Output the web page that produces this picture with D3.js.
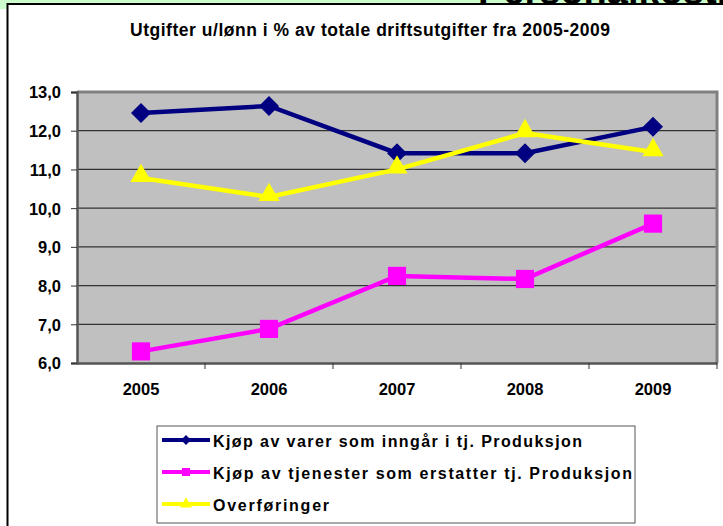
<!DOCTYPE html>
<html>
<head>
<meta charset="utf-8">
<script src="https://cdn.jsdelivr.net/npm/d3@7"></script>
<style>
  body { margin: 0; background: #fff; }
  text { font-family: "Liberation Sans", Arial, sans-serif; font-weight: bold; fill: #000; }
</style>
</head>
<body>
<div id="chart"></div>
<script>
const years = ["2005", "2006", "2007", "2008", "2009"];
const varer = [12.46, 12.64, 11.42, 11.42, 12.1];
const tjenester = [6.3, 6.88, 8.25, 8.17, 9.6];
const overforinger = [10.78, 10.29, 11.0, 11.94, 11.45];
const seriesNames = ["Kjøp av varer som inngår i tj. Produksjon", "Kjøp av tjenester som erstatter tj. Produksjon", "Overføringer"];
const yTicks = [6, 7, 8, 9, 10, 11, 12, 13];

const width = 723, height = 526;
const svg = d3.select("#chart").append("svg").attr("width", width).attr("height", height);

// green page strip with the bottoms of a big heading peeking out above the chart box
svg.append("clipPath").attr("id", "strip").append("rect")
    .attr("x", 0).attr("y", 0).attr("width", width).attr("height", 4);
svg.append("rect").attr("x", 0).attr("y", 0).attr("width", width).attr("height", 9).attr("fill", "#ccffcc");
svg.append("text").attr("x", 478).attr("y", 4).attr("clip-path", "url(#strip)")
    .style("font-size", "38px").text("Personalkostnader");

// chart box
svg.append("rect").attr("x", 7.5).attr("y", 4).attr("width", width).attr("height", height)
    .attr("fill", "#fff").attr("stroke", "#000").attr("stroke-width", 2);

svg.append("text").attr("x", 130).attr("y", 36)
    .attr("textLength", 480).attr("lengthAdjust", "spacing")
    .style("font-size", "17.5px").text("Utgifter u/lønn i % av totale driftsutgifter fra 2005-2009");

const plotL = 77, plotR = 717, plotT = 92, plotB = 363;
const x = d3.scaleBand().domain(years).range([plotL, plotR]);
const y = d3.scaleLinear().domain([6, 13]).range([plotB, plotT]);

svg.append("rect").attr("x", plotL).attr("y", plotT).attr("width", plotR - plotL).attr("height", plotB - plotT)
    .attr("fill", "#c0c0c0");

svg.append("g").selectAll("line").data(yTicks.slice(1, -1)).join("line")
    .attr("x1", plotL).attr("x2", plotR).attr("y1", d => y(d)).attr("y2", d => y(d))
    .attr("stroke", "#333").attr("stroke-width", 1.3);

svg.append("path")
    .attr("d", `M${plotL},${plotT}H${plotR}V${plotB}`)
    .attr("fill", "none").attr("stroke", "#808080").attr("stroke-width", 3);

const yAxis = svg.append("g").attr("transform", `translate(${plotL},0)`)
    .call(d3.axisLeft(y).tickValues(yTicks).tickSize(6).tickPadding(10)
        .tickFormat(d => d3.format(".1f")(d).replace(".", ",")));
yAxis.select(".domain").attr("stroke", "#555").attr("stroke-width", 2.5);
yAxis.selectAll(".tick line").attr("stroke", "#333");
yAxis.selectAll("text").attr("dy", "0.36em").style("font-size", "16.5px")
    .style("font-family", "Liberation Sans, Arial, sans-serif").style("font-weight", "bold");

const xAxis = svg.append("g").attr("transform", `translate(0,${plotB})`)
    .call(d3.axisBottom(x).tickSize(0).tickPadding(20));
xAxis.select(".domain").attr("stroke", "#555").attr("stroke-width", 2.5);
xAxis.selectAll("text").attr("dy", "0.71em").style("font-size", "16.5px")
    .style("font-family", "Liberation Sans, Arial, sans-serif").style("font-weight", "bold");
svg.append("g").selectAll("line").data(years.slice(1).concat([null])).join("line")
    .attr("x1", d => d ? x(d) : plotR).attr("x2", d => d ? x(d) : plotR)
    .attr("y1", plotB).attr("y2", plotB + 6).attr("stroke", "#333").attr("stroke-width", 1);

const diamond = { draw(ctx, size) { const r = Math.sqrt(size / 2); ctx.moveTo(0, -r); ctx.lineTo(r, 0); ctx.lineTo(0, r); ctx.lineTo(-r, 0); ctx.closePath(); } };

const series = [
  { name: seriesNames[0], values: varer, color: "#000080", symbol: diamond, size: 200, lsize: 50, len: 369 },
  { name: seriesNames[1], values: tjenester, color: "#ff00ff", symbol: d3.symbolSquare, size: 330, lsize: 64, len: 419 },
  { name: seriesNames[2], values: overforinger, color: "#ffff00", symbol: d3.symbolTriangle, size: 195, lsize: 60, len: 116 }
];

const line = d3.line().x((d, i) => x(years[i]) + x.bandwidth() / 2).y(d => y(d));

series.forEach(s => {
  svg.append("path").datum(s.values).attr("d", line)
     .attr("fill", "none").attr("stroke", s.color).attr("stroke-width", 4.5);
  svg.append("g").selectAll("path").data(s.values).join("path")
     .attr("transform", (d, i) => `translate(${x(years[i]) + x.bandwidth() / 2},${y(d) - (s.symbol === d3.symbolTriangle ? 2 : 0)})`)
     .attr("d", d3.symbol().type(s.symbol).size(s.size)).attr("fill", s.color);
});

// legend
const lg = svg.append("g");
lg.append("rect").attr("x", 157).attr("y", 426).attr("width", 478).attr("height", 97)
  .attr("fill", "#fff").attr("stroke", "#555").attr("stroke-width", 1);
series.forEach((s, i) => {
  const ly = 440 + i * 32;
  lg.append("line").attr("x1", 162).attr("x2", 210).attr("y1", ly).attr("y2", ly)
    .attr("stroke", s.color).attr("stroke-width", 4);
  lg.append("path").attr("transform", `translate(186,${ly})`)
    .attr("d", d3.symbol().type(s.symbol).size(s.lsize)).attr("fill", s.color);
  lg.append("text").attr("x", 213).attr("y", ly + 7)
    .attr("textLength", s.len).attr("lengthAdjust", "spacing")
    .style("font-size", "16px").text(s.name);
});
</script>
</body>
</html>
